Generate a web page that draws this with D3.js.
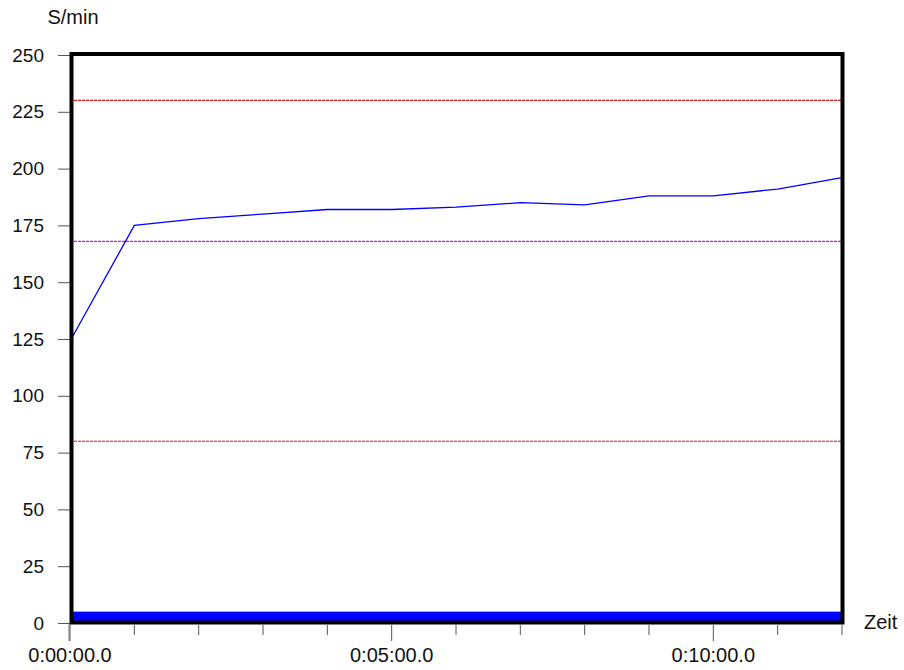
<html>
<head>
<style>
  body { margin: 0; background: #fff; }
  text { font-family: "Liberation Sans", Arial, sans-serif; }
</style>
</head>
<body>
<svg id="chart" width="904" height="670"></svg>
<script src="https://cdn.jsdelivr.net/npm/d3@7"></script>
<script>
// cadence (S/min) sampled every minute
const minutes = [0, 1, 2, 3, 4, 5, 6, 7, 8, 9, 10, 11, 12]
const cadence = [124, 175, 178, 180, 182, 182, 183, 185, 184, 188, 188, 191, 196]
const yTicks = [0, 25, 50, 75, 100, 125, 150, 175, 200, 225, 250]
const xLabels = ["0:00:00.0", "0:05:00.0", "0:10:00.0"]
const limitsRed = [80, 230]
const limitMagenta = [168]
const baseBand = [0, 5]

let svg = d3.select("#chart")

let x = d3.scaleLinear().domain([0, 12]).range([70, 842])
let y = d3.scaleLinear().domain([0, 250]).range([623, 55])

// y axis ticks + labels
let yAxis = d3.axisLeft(y).tickValues(yTicks).tickSize(12).tickPadding(14)
let gy = svg.append("g").attr("transform", "translate(70,0)").call(yAxis)
gy.select(".domain").remove()
gy.selectAll("line").attr("stroke", "#555")
gy.selectAll("text").style("font-size", "19px").attr("fill", "#111")

// x axis: minute ticks, labels every 5 min
let gx = svg.append("g").attr("transform", "translate(0,624)")
gx.append("line").attr("x1", 69).attr("x2", 69).attr("y1", 0).attr("y2", 17).attr("stroke", "#777")
gx.selectAll("line.tick").data(minutes).enter().append("line")
    .attr("class", "tick")
    .attr("x1", d => x(d)).attr("x2", d => x(d))
    .attr("y1", 1).attr("y2", d => d % 5 == 0 ? 17 : 11)
    .attr("stroke", "#555")
gx.selectAll("text").data(xLabels).enter().append("text")
    .attr("x", (d, i) => x(i * 5))
    .attr("y", 38)
    .attr("text-anchor", "middle")
    .style("font-size", "20px").attr("fill", "#111")
    .text(d => d)

// blue base band
svg.append("rect")
    .attr("x", x(0)).attr("width", x(12) - x(0))
    .attr("y", y(baseBand[1])).attr("height", y(baseBand[0]) - y(baseBand[1]))
    .attr("fill", "#0000ff")

// limit lines
svg.selectAll("line.red").data(limitsRed).enter().append("line")
    .attr("x1", x(0)).attr("x2", x(12))
    .attr("y1", d => y(d)).attr("y2", d => y(d))
    .attr("stroke", "#c81818").attr("stroke-width", 1.2).attr("stroke-dasharray", "3,1")
svg.selectAll("line.mag").data(limitMagenta).enter().append("line")
    .attr("x1", x(0)).attr("x2", x(12))
    .attr("y1", d => y(d)).attr("y2", d => y(d))
    .attr("stroke", "#c020c0").attr("stroke-width", 1.2).attr("stroke-dasharray", "3,1")

// cadence line
let line = d3.line().x((d, i) => x(minutes[i])).y(d => y(d))
svg.append("path").datum(cadence)
    .attr("d", line)
    .attr("fill", "none").attr("stroke", "#0000ff").attr("stroke-width", 1.3)

// frame
svg.append("rect")
    .attr("x", x(0) + 1.5).attr("y", y(250) - 1)
    .attr("width", x(12) - x(0) - 1).attr("height", y(0) - y(250) + 0.5)
    .attr("fill", "none").attr("stroke", "#000").attr("stroke-width", 4)

// axis titles
svg.append("text").attr("x", 73).attr("y", 24).attr("text-anchor", "middle")
    .style("font-size", "20px").attr("fill", "#111").text("S/min")
svg.append("text").attr("x", 864).attr("y", 629)
    .style("font-size", "20px").attr("fill", "#111").text("Zeit")
</script>
</body>
</html>
